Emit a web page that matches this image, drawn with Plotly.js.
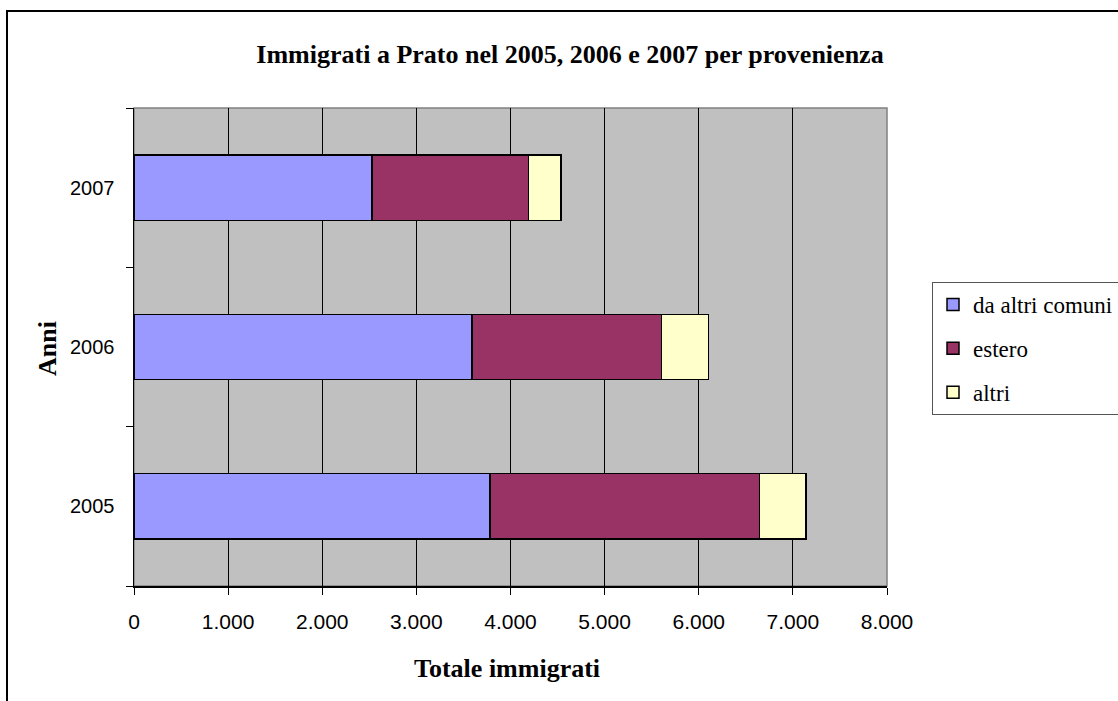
<!DOCTYPE html>
<html>
<head>
<meta charset="utf-8">
<script src="https://cdn.plot.ly/plotly-3.0.1.min.js"></script>
<style>
html,body{margin:0;padding:0;background:#fff;}
#chart{width:1118px;height:701px;}
</style>
</head>
<body>
<div id="chart"></div>
<script>
const years = ['2005', '2006', '2007'];
const daAltriComuni = [3783, 3590, 2530];
const estero = [2860, 2015, 1663];
const altri = [499, 500, 344];
const seriesNames = ['da altri comuni', 'estero', 'altri'];
const xTickVals = [0, 1000, 2000, 3000, 4000, 5000, 6000, 7000, 8000];

const colors = ['#9999FF', '#993366', '#FFFFCC'];
const seriesData = [daAltriComuni, estero, altri];

const traces = seriesData.map((vals, i) => ({
  type: 'bar',
  orientation: 'h',
  name: seriesNames[i],
  y: years,
  x: vals,
  legendgroup: 'g' + i,
  marker: {color: colors[i], line: {color: '#000000', width: 1.5}},
  hoverinfo: 'x+y+name'
}));

const L = 134, R = 887, T = 108, B = 586, W = 1118, H = 701;
const pw = R - L, ph = B - T;
const px = v => (v - L) / pw;
const py = v => (B - v) / ph;

const serif = 'Liberation Serif, Times New Roman, serif';
const sans = 'Liberation Sans, Arial, sans-serif';

const layout = {
  width: W, height: H,
  margin: {l: L, r: W - R, t: T, b: H - B, pad: 0, autoexpand: false},
  paper_bgcolor: '#ffffff',
  plot_bgcolor: '#C0C0C0',
  barmode: 'stack',
  bargap: 0.59,
  separators: ',.',
  showlegend: true,
  title: {
    text: '<b>Immigrati a Prato nel 2005, 2006 e 2007 per provenienza</b>',
    font: {family: serif, size: 26, color: '#000'},
    x: 570 / W, xref: 'container', xanchor: 'center',
    y: 1 - 54 / H, yref: 'container', yanchor: 'middle'
  },
  xaxis: {
    range: [0, 8000],
    tickvals: xTickVals,
    tickformat: ',d',
    showgrid: true, gridcolor: '#000000', gridwidth: 1,
    zeroline: false,
    showline: true, linecolor: '#000000', linewidth: 1.5,
    ticks: 'outside', ticklen: 7, tickcolor: '#000000',
    ticklabelstandoff: 9,
    tickfont: {family: sans, size: 21, color: '#000'},
    fixedrange: true
  },
  yaxis: {
    type: 'category',
    categoryorder: 'array', categoryarray: years,
    showgrid: false,
    zeroline: false,
    showline: true, linecolor: '#000000', linewidth: 1.5,
    ticks: 'outside', ticklen: 7, tickcolor: '#000000',
    tickson: 'boundaries',
    ticklabelstandoff: 14,
    tickfont: {family: sans, size: 20, color: '#000'},
    fixedrange: true
  },
  legend: {
    x: px(932), y: py(282), xanchor: 'left', yanchor: 'top',
    bgcolor: '#ffffff', bordercolor: '#555555', borderwidth: 1,
    font: {family: serif, size: 23, color: '#000'},
    traceorder: 'grouped', tracegroupgap: 11,
    itemwidth: 30
  },
  annotations: [
    {
      text: '<b>Totale immigrati</b>',
      xref: 'paper', yref: 'paper', x: px(507), y: py(668),
      xanchor: 'center', yanchor: 'middle', showarrow: false,
      font: {family: serif, size: 26, color: '#000'}
    },
    {
      text: '<b>Anni</b>',
      xref: 'paper', yref: 'paper', x: px(47), y: py(349),
      xanchor: 'center', yanchor: 'middle', showarrow: false, textangle: -90,
      font: {family: serif, size: 26, color: '#000'}
    }
  ],
  shapes: [
    {
      type: 'rect', xref: 'paper', yref: 'paper',
      x0: px(7), x1: px(1130), y0: py(11), y1: py(720),
      line: {color: '#000000', width: 2}, layer: 'below'
    },
    {
      type: 'rect', xref: 'paper', yref: 'paper',
      x0: 0, x1: 1, y0: 0, y1: 1,
      line: {color: '#808080', width: 1.5}, layer: 'below'
    }
  ]
};

Plotly.newPlot('chart', traces, layout, {displayModeBar: false, staticPlot: true});
</script>
</body>
</html>
